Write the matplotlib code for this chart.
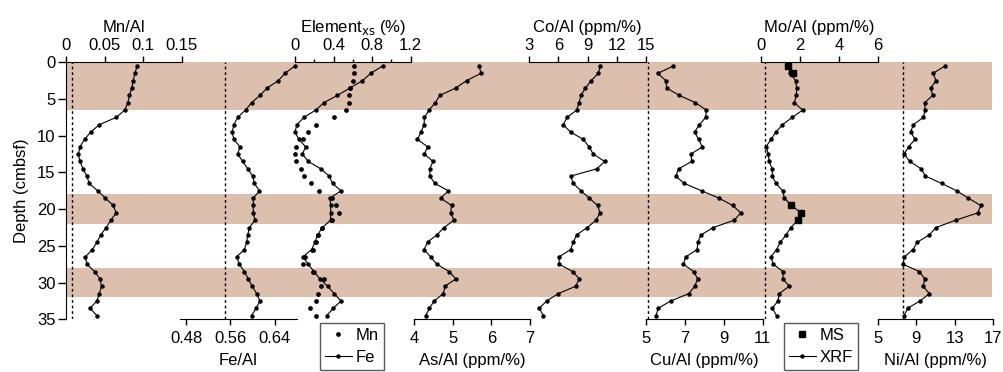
import matplotlib.pyplot as plt
from matplotlib.lines import Line2D

plt.rcParams['font.family'] = ['Liberation Sans', 'DejaVu Sans']
plt.rcParams['font.size'] = 12

# sample depths (cmbsf)
depth = [0.5, 1.5, 2.5, 3.5, 4.5, 5.5, 6.5, 7.5, 8.5, 9.5,
         10.5, 11.5, 12.5, 13.5, 14.5, 15.5, 16.5, 17.5, 18.5, 19.5,
         20.5, 21.5, 22.5, 23.5, 24.5, 25.5, 26.5, 27.5, 28.5, 29.5,
         30.5, 31.5, 32.5, 33.5, 34.5]

mn_al = [0.092, 0.089, 0.087, 0.085, 0.082, 0.080, 0.076, 0.065, 0.043, 0.032,
         0.024, 0.018, 0.016, 0.018, 0.022, 0.027, 0.030, 0.041, 0.051, 0.061,
         0.065, 0.058, 0.052, 0.045, 0.040, 0.034, 0.025, 0.027, 0.037, 0.044,
         0.046, 0.043, 0.040, 0.031, 0.040]

fe_al = [0.676, 0.658, 0.646, 0.626, 0.613, 0.598, 0.587, 0.573, 0.566, 0.563,
         0.566, 0.577, 0.573, 0.582, 0.591, 0.600, 0.603, 0.612, 0.601, 0.601,
         0.601, 0.604, 0.594, 0.591, 0.589, 0.585, 0.571, 0.576, 0.585, 0.592,
         0.599, 0.607, 0.613, 0.606, 0.598]

fe_xs = [0.909, 0.786, 0.700, 0.570, 0.440, 0.300, 0.216, 0.093, 0.020, 0.0,
         0.040, 0.110, 0.077, 0.138, 0.266, 0.356, 0.390, 0.477, 0.363, 0.370,
         0.370, 0.370, 0.283, 0.235, 0.207, 0.173, 0.080, 0.138, 0.197, 0.259,
         0.339, 0.407, 0.477, 0.397, 0.328]

mn_xs = [0.615, 0.615, 0.605, 0.575, 0.563, 0.560, 0.525, 0.406, 0.216, 0.135,
         0.080, 0.012, 0.004, 0.008, 0.060, 0.097, 0.166, 0.245, 0.380, 0.421,
         0.456, 0.380, 0.283, 0.242, 0.214, 0.183, 0.100, 0.086, 0.190, 0.300,
         0.270, 0.242, 0.218, 0.155, 0.218]

as_al = [5.69, 5.73, 5.36, 5.08, 4.67, 4.55, 4.39, 4.27, 4.26, 4.18,
         4.09, 4.35, 4.27, 4.49, 4.41, 4.41, 4.54, 4.89, 4.69, 4.97,
         4.95, 5.03, 4.78, 4.59, 4.35, 4.26, 4.43, 4.59, 4.91, 5.08,
         4.80, 4.76, 4.52, 4.40, 4.30]

co_al = [10.3, 10.1, 9.36, 8.77, 8.31, 8.11, 7.87, 6.88, 6.49, 7.25,
         8.55, 9.14, 9.58, 10.75, 9.96, 7.25, 7.52, 8.31, 9.17, 10.03,
         10.27, 9.86, 8.96, 7.87, 7.52, 7.25, 6.05, 6.08, 7.46, 8.14,
         7.77, 5.98, 4.79, 4.03, 4.44]

cu_al = [6.41, 5.61, 6.02, 6.06, 6.71, 7.54, 8.10, 8.07, 7.74, 7.50,
         7.70, 7.90, 7.31, 7.35, 6.68, 6.53, 6.97, 7.86, 8.75, 9.46,
         9.87, 9.54, 8.46, 7.83, 7.66, 7.63, 7.04, 6.92, 7.45, 7.66,
         7.50, 7.21, 6.27, 5.63, 5.51]

mo_xrf = [1.37, 1.50, 1.78, 1.83, 1.82, 1.71, 2.14, 1.61, 1.10, 0.77,
          0.51, 0.26, 0.38, 0.41, 0.58, 0.58, 0.77, 1.12, 1.20, 1.58,
          2.05, 1.90, 1.53, 1.29, 1.00, 0.80, 0.51, 0.63, 1.13, 1.13,
          1.45, 0.94, 0.87, 0.58, 0.80]

ms_depth = [0.5, 1.5, 19.5, 20.5, 21.5]
mo_ms = [1.37, 1.63, 1.56, 2.05, 1.92]

ni_al = [11.99, 10.75, 11.05, 10.50, 10.70, 9.88, 9.92, 9.74, 8.70, 8.42,
         8.88, 8.20, 7.75, 8.33, 9.52, 9.95, 11.65, 13.2, 14.4, 15.7,
         15.4, 13.1, 11.05, 10.37, 9.10, 8.67, 7.77, 7.63, 9.32, 9.90,
         9.70, 10.37, 9.40, 8.10, 7.75]

# shaded intervals and reference (dotted) values
bands = [(0, 6.5), (18, 22), (28, 32)]
mn_ref = 0.0082
fe_ref = 0.551
cu_ref = 5.09
mo_ref = 0.2
ni_ref = 7.66

W, H = 1004, 372
TOP, BOT = 62.3, 319.3
BAND = '#dcbfac'

fig = plt.figure(figsize=(W / 100, H / 100), dpi=100)


def column(x0, x1):
    ax = fig.add_axes([x0 / W, 1 - BOT / H, (x1 - x0) / W, (BOT - TOP) / H])
    ax.patch.set_visible(False)
    ax.set_ylim(35, 0)
    return ax


# depth axis + shading
ax0 = column(66, 992)
ax0.set_xlim(0, 1)
for s in ['top', 'right', 'bottom']:
    ax0.spines[s].set_visible(False)
ax0.set_xticks([])
ax0.set_yticks([0, 5, 10, 15, 20, 25, 30, 35])
ax0.tick_params(axis='y', length=6, width=1, pad=1.5)
ax0.set_ylabel('Depth (cmbsf)', labelpad=6)
for top, bot in bands:
    ax0.axhspan(top, bot, color=BAND, lw=0, zorder=0)


def profile(x0, x1, lim, ticks, labels, title, side, minor=None, ref=None):
    ax = column(x0, x1)
    ax.set_xlim(lim)
    ax.set_yticks([])
    for s in ['left', 'right', 'top', 'bottom']:
        ax.spines[s].set_visible(s == side)
    if side == 'top':
        ax.xaxis.tick_top()
        ax.xaxis.set_label_position('top')
        pad, lpad = 2.5, 4
    else:
        pad, lpad = 4.5, 5
    ax.set_xticks(ticks, labels)
    if minor:
        ax.set_xticks(minor, minor=True)
    ax.tick_params(axis='x', which='major', length=4.2, width=1, pad=pad)
    ax.tick_params(axis='x', which='minor', length=2.5, width=1)
    ax.set_xlabel(title, labelpad=lpad)
    if ref is not None:
        ax.axvline(ref, color='black', lw=1, ls=(0, (2, 2)))
    return ax


line_kw = dict(color='black', lw=0.8, marker='o', ms=2.2, clip_on=False)

ax = profile(66, 182, (0, 0.15), [0, 0.05, 0.1, 0.15],
             ['0', '0.05', '0.1', '0.15'], 'Mn/Al', 'top', ref=mn_ref)
ax.plot(mn_al, depth, **line_kw)

ax = profile(180, 297, (0.4692, 0.6796), [0.48, 0.56, 0.64],
             ['0.48', '0.56', '0.64'], 'Fe/Al', 'bottom', ref=fe_ref)
ax.plot(fe_al, depth, **line_kw)

ax = profile(295, 410.7, (0, 1.2), [0, 0.4, 0.8, 1.2],
             ['0', '0.4', '0.8', '1.2'], r'Element$_{\mathrm{xs}}$ (%)', 'top',
             minor=[0.2, 0.6, 1.0])
ax.plot(mn_xs, depth, ls='none', color='black', marker='o', ms=2.4, clip_on=False)
ax.plot(fe_xs, depth, **line_kw)

ax = profile(414, 530, (4, 7), [4, 5, 6, 7], ['4', '5', '6', '7'],
             'As/Al (ppm/%)', 'bottom')
ax.plot(as_al, depth, **line_kw)

ax = profile(529.3, 646, (3, 15), [3, 6, 9, 12, 15],
             ['3', '6', '9', '12', '15'], 'Co/Al (ppm/%)', 'top')
ax.plot(co_al, depth, **line_kw)

ax = profile(646, 762.7, (5, 11), [5, 7, 9, 11], ['5', '7', '9', '11'],
             'Cu/Al (ppm/%)', 'bottom', ref=cu_ref)
ax.plot(cu_al, depth, **line_kw)

ax = profile(761, 877.7, (0, 6), [0, 2, 4, 6], ['0', '2', '4', '6'],
             'Mo/Al (ppm/%)', 'top', ref=mo_ref)
ax.plot(mo_xrf, depth, **line_kw)
ax.plot(mo_ms, ms_depth, ls='none', color='black', marker='s', ms=4.5,
        clip_on=False)

ax = profile(877.7, 993.3, (5, 17), [5, 9, 13, 17], ['5', '9', '13', '17'],
             'Ni/Al (ppm/%)', 'bottom', ref=ni_ref)
ax.plot(ni_al, depth, **line_kw)

# legends
leg_kw = dict(loc='upper left', frameon=True, fancybox=False, edgecolor='0.35',
              borderaxespad=0, borderpad=0.3, handlelength=1.6,
              handletextpad=0.25, labelspacing=0.4, framealpha=1)
h_mn = Line2D([], [], ls='none', color='black', marker='o', ms=2.4)
h_fe = Line2D([], [], **{k: v for k, v in line_kw.items() if k != 'clip_on'})
leg = fig.legend([h_mn, h_fe], ['Mn', 'Fe'],
                 bbox_to_anchor=(320 / W, 1 - 323 / H), **leg_kw)
leg.get_frame().set_linewidth(1)
h_ms = Line2D([], [], ls='none', color='black', marker='s', ms=4.5)
leg = fig.legend([h_ms, h_fe], ['MS', 'XRF'],
                 bbox_to_anchor=(784 / W, 1 - 323 / H), **leg_kw)
leg.get_frame().set_linewidth(1)

fig.savefig('out.png', dpi=100)
